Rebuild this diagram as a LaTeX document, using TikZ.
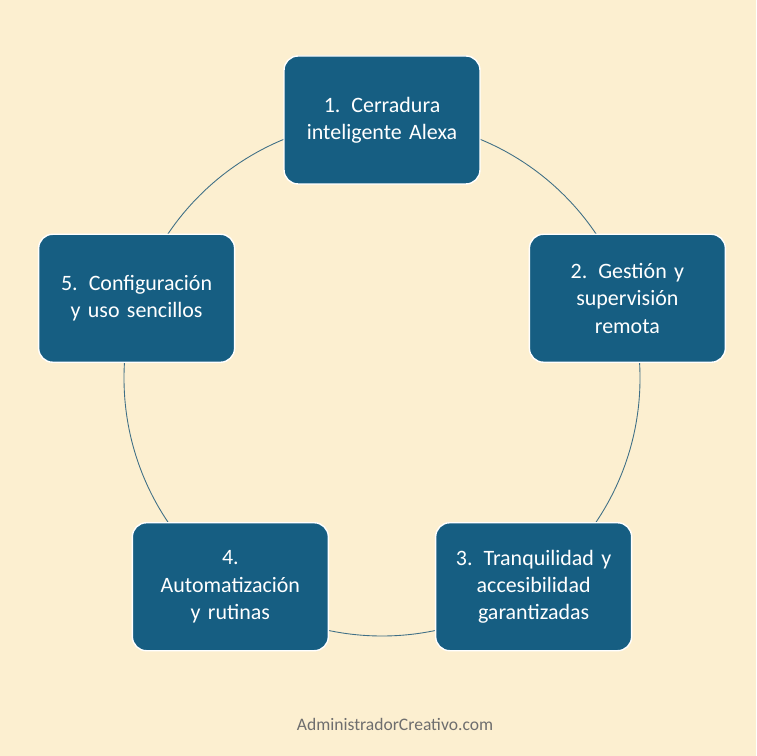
\documentclass[tikz,border=0pt]{standalone}
\usepackage{fontspec}
\setmainfont{Carlito}
\usetikzlibrary{positioning,calc}
\definecolor{bgBeige}{HTML}{FCEFD0}
\definecolor{boxBlue}{HTML}{165E82}
\definecolor{ringLine}{HTML}{3F6F86}
\definecolor{footGray}{HTML}{6E6E6E}
\tikzset{stepBox/.style={
    draw=white,
    line width=0.8pt,
    fill=boxBlue,
    rounded corners=8pt,
    minimum width=3.92cm,
    minimum height=2.56cm,
    text width=3.6cm,
    align=center,
    text=white,
    font=\fontsize{12.5}{15.5}\selectfont}
}

\begin{document}
\begin{tikzpicture}[x=0.02cm,y=0.02cm]
      \fill[bgBeige] (0,0) rectangle (756,756);
      \useasboundingbox (0,0) rectangle (756,756);
      \coordinate (ctr) at (382,378);
      % ring behind the boxes
      \draw[color=ringLine,line width=0.5pt] (ctr) circle (258);

      \node[stepBox] (b1) at ($(ctr)+(90:258)$) {1. Cerradura\\inteligente Alexa};
      \node[stepBox] (b2) at ($(ctr)+(18:258)$) {2. Gestión y\\supervisión\\remota};
      \node[stepBox] (b3) at ($(ctr)+(-54:258)$) {3. Tranquilidad y\\accesibilidad\\garantizadas};
      \node[stepBox] (b4) at ($(ctr)+(-126:258)$) {4.\\Automatización\\y rutinas};
      \node[stepBox] (b5) at ($(ctr)+(162:258)$) {5. Configuración\\y uso sencillos};

      \node[color=footGray,font=\fontsize{10}{12}\selectfont] (foot)
      at (395,32) {AdministradorCreativo.com};
\end{tikzpicture}
\end{document}
